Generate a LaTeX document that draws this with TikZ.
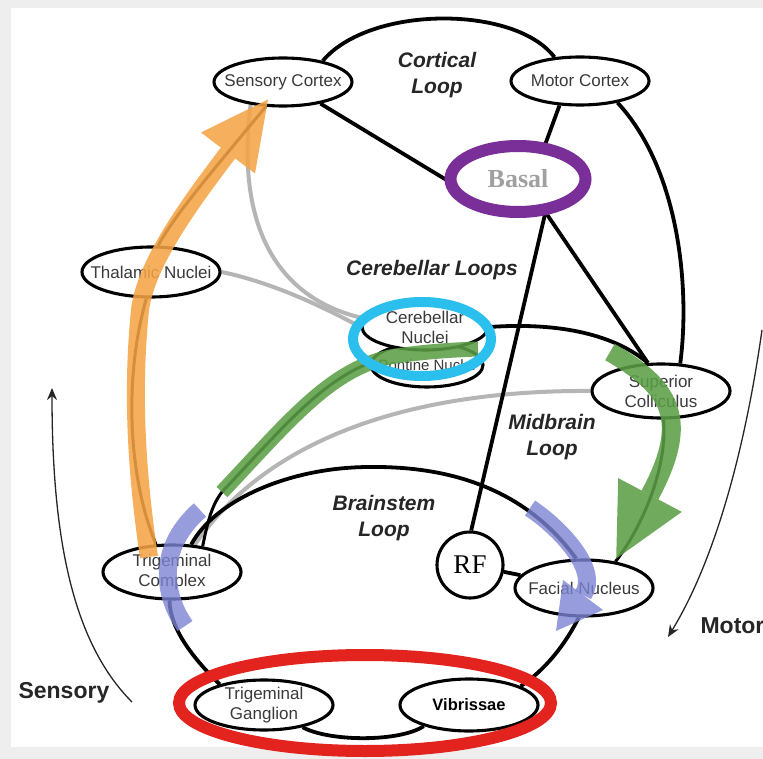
\documentclass[tikz,border=0pt]{standalone}
\usepackage{fontspec}
\setmainfont{Liberation Sans}
\newfontfamily\rfserif{Liberation Serif}
\usetikzlibrary{arrows.meta,shapes.geometric}
\pgfdeclarelayer{bg}
\pgfdeclarelayer{fg}
\pgfsetlayers{bg,main,fg}

\definecolor{framegray}{HTML}{EEEEEE}
\definecolor{nodetext}{HTML}{3A3A3A}
\definecolor{linegray}{HTML}{B5B5B5}
\definecolor{orangeA}{HTML}{F5A445}
\definecolor{greenA}{HTML}{5B9F45}
\definecolor{blueA}{HTML}{7C84D4}
\definecolor{purpleA}{HTML}{7A2E98}
\definecolor{cyanA}{HTML}{2BBFEE}
\definecolor{redA}{HTML}{E2231E}
\definecolor{basalgray}{HTML}{A0A0A0}

\begin{document}
\begin{tikzpicture}[x=1pt,y=-1pt,
  region/.style={ellipse, draw=black, line width=3.1pt, fill=white,
    inner xsep=-25pt, inner ysep=-5pt, minimum width=138pt, minimum height=48pt,
    text=nodetext, font=\fontsize{17}{20}\selectfont, align=center},
  looplabel/.style={font=\bfseries\itshape\fontsize{21}{26}\selectfont,
    align=center, text=black!85},
  sidelabel/.style={font=\bfseries\fontsize{23}{26}\selectfont, text=black!85},
  conn/.style={line width=3.8pt, black},
  grayconn/.style={line width=4pt, linegray},
  flowarrow/.style={line width=1.3pt, black!85, -{Stealth[length=12pt,width=10pt]}},
  band/.style={opacity=.87}]

\useasboundingbox (0,0) rectangle (763,759);

% ---- regions ----
\node[region] (SC) at (283,82) {Sensory Cortex};
\node[region] (MC) at (580,81) {Motor Cortex};
\node[region, minimum height=50pt] (TN) at (151,272) {Thalamic Nuclei};
\node[region, minimum width=112pt, minimum height=44pt,
      font=\fontsize{15}{18}\selectfont] (PN) at (427,365) {Pontine Nuclei};
\node[region, minimum width=126pt, minimum height=46pt] (CN) at (425,327) {Cerebellar\\Nuclei};
\node[region, minimum height=54pt] (SCo) at (661,391) {Superior\\Colliculus};
\node[region, minimum height=54pt] (TC) at (172,572) {Trigeminal\\Complex};
\node[circle, draw=black, line width=3.1pt, fill=white, minimum size=66pt, inner sep=0pt,
      font=\rfserif\fontsize{27}{28}\selectfont] (RF) at (470,565) {RF};
\node[region, minimum height=56pt] (FN) at (584,588) {Facial Nucleus};
\node[region, minimum height=50pt] (TG) at (264,705) {Trigeminal\\Ganglion};
\node[region, minimum height=52pt, text=black,
      font=\bfseries\fontsize{16.5}{20}\selectfont] (Vb) at (469,705) {Vibrissae};
\node[ellipse, minimum width=135pt, minimum height=66pt, inner sep=0pt] (Ba) at (518,179) {};

% ---- loop names ----
\node[looplabel] (Lc) at (437,75) {Cortical\\Loop};
\node[looplabel] (Lcb) at (432,270) {Cerebellar Loops};
\node[looplabel] (Lm) at (552,437) {Midbrain\\Loop};
\node[looplabel] (Lb) at (384,518) {Brainstem\\Loop};
\node[sidelabel, anchor=west] (Ls) at (15,693) {Sensory};
\node[sidelabel, anchor=west] (Lmo) at (697,626) {Motor};

\begin{pgfonlayer}{bg}
  % frame
  \fill[framegray] (0,0) rectangle (763,759);
  \fill[white] (11,8) rectangle (763,747);

  % direction arrows
  \coordinate (s0) at (132,702);
  \coordinate (s1) at (52,388);
  \draw[flowarrow] (s0) .. controls (70,640) and (52,530) .. (s1);
  \coordinate (m0) at (762,330);
  \coordinate (m1) at (668,637);
  \draw[flowarrow] (m0) .. controls (745,450) and (715,560) .. (m1);

  % gray links
  \draw[grayconn] (SC.-145) .. controls (235,230) and (280,300) .. (CN.172);
  \draw[grayconn] (TN.east) .. controls (270,282) and (320,305) .. (CN.180);
  \draw[grayconn] (SCo.180) .. controls (450,390) and (280,420) .. (TC.50);

  % black links
  \draw[conn] (SC.28) .. controls (370,5) and (515,5) .. (MC.137);
  \draw[conn] (SC.-30) -- (Ba.183);
  \draw[conn] (MC.230) -- (Ba.50);
  \draw[conn] (MC.-30) .. controls (680,170) and (690,290) .. (SCo.55);
  \draw[conn] (Ba.-50) -- (SCo.115);
  \draw[conn] (Ba.-47) -- (RF.88);
  \draw[conn] (CN.east) .. controls (560,322) and (615,335) .. (SCo.115);
  \draw[conn] (TC.55) .. controls (215,500) and (290,467) .. (370,467)
                      .. controls (460,466) and (530,495) .. (FN.105);
  \draw[conn] (FN.-100) .. controls (565,645) and (545,670) .. (Vb.20);
  \draw[conn] (TG.-30) .. controls (330,742) and (400,742) .. (Vb.-155);
  \draw[conn] (TC.-95) .. controls (170,630) and (195,660) .. (TG.155);
  \draw[conn] (RF) -- (FN);
  \draw[conn, line width=3pt] (TC.40) .. controls (208,520) and (212,505) .. (222,492)
        .. controls (290,420) and (330,370) .. (390,357)
        .. controls (405,354) and (410,352) .. (PN.150);
  \draw[conn, line width=3pt] (SCo.-85) .. controls (668,470) and (640,530) .. (FN.40);
  \draw[conn, line width=3pt] (TC.120) .. controls (129,480) and (123,380) .. (TN.-100);
  \draw[conn, line width=3pt] (TN.75) .. controls (175,215) and (205,180) .. (SC.-125);
\end{pgfonlayer}

\begin{pgfonlayer}{fg}
  % sensory pathway (orange)
  \draw[band, orangeA, line width=18pt] (149,557) .. controls (136,470) and (132,390) .. (140,310)
        .. controls (146,260) and (198,193) .. (228,153);
  \fill[band, orangeA] (255,173.5) -- (268,99.5) -- (201,132.5) -- cycle;

  % cerebellar pathways (green)
  \draw[band, greenA, line width=15pt] (222,492) .. controls (290,420) and (330,370) .. (390,357)
        .. controls (420,352) and (450,350) .. (478,349);
  \draw[band, greenA, line width=19pt] (610,352) .. controls (672,388) and (690,420) .. (650,495);
  \fill[band, greenA] (681.8,511.9) -- (616.2,558.6) -- (618.2,478.1) -- cycle;

  % brainstem pathway (blue)
  \draw[blueA, opacity=.8, line width=18pt] (185,626) .. controls (160,590) and (160,545) .. (200,510);
  \draw[blueA, opacity=.8, line width=18pt] (530,508) .. controls (560,528) and (600,570) .. (583,595);
  \fill[blueA, opacity=.8] (603,610) -- (556,631) -- (563,580) -- cycle;

  % highlight rings
  \draw[cyanA, line width=10pt] (422,339) ellipse [x radius=69, y radius=37];
  \draw[purpleA, line width=12pt] (Ba.center) ellipse [x radius=67.5, y radius=33];
  \draw[redA, line width=12pt] (365,703) ellipse [x radius=186, y radius=48];

  % basal label, set in a soft gray
  \node[text=basalgray, font=\rfserif\bfseries\fontsize{26}{28}\selectfont] (BaT) at (Ba.center) {Basal};
\end{pgfonlayer}
\end{tikzpicture}
\end{document}
